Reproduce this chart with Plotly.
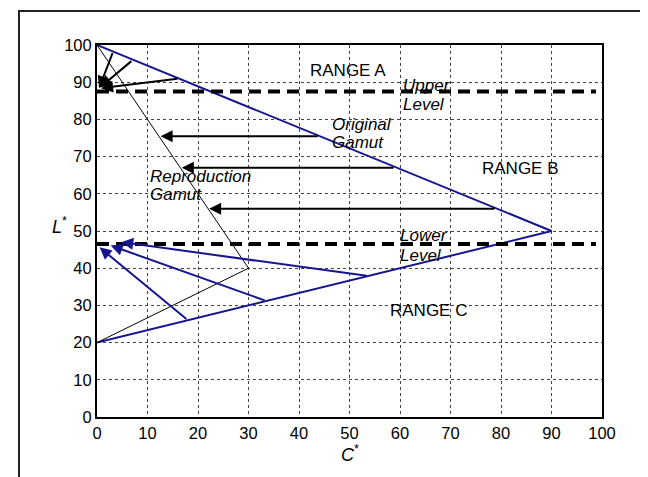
import plotly.graph_objects as go

# ---- data ----
# Original gamut boundary (C*, L*)
orig_C = [0, 90, 0]
orig_L = [100, 50, 20]
# Reproduction gamut boundary
repr_C = [0, 30, 0]
repr_L = [100, 40, 20]
# Level lines (L*)
upper_level = 87.5
lower_level = 46.5
# Horizontal mapping arrows (RANGE B): L*, start C*, end C*
mid_L = [75.5, 67.0, 56.0]
mid_C_start = [44.0, 59.0, 79.0]
mid_C_end = [12.6, 16.8, 22.2]
# Upper mapping arrows (RANGE A): start on original gamut -> tip near upper level
up_C_start = [3.2, 7.1, 16.2]
up_L_start = [98.2, 96.0, 91.0]
up_C_end = [0.4, 0.6, 0.8]
up_L_end = [88.4, 88.6, 88.4]
# Lower mapping arrows (RANGE C): start on original gamut -> tip near lower level
lo_C_start = [53.7, 33.5, 18.0]
lo_L_start = [37.9, 31.2, 26.0]
lo_C_end = [4.8, 2.7, 0.5]
lo_L_end = [47.0, 46.1, 45.6]

x_ticks = list(range(0, 101, 10))
y_ticks = list(range(0, 101, 10))

BLUE = "#15158f"
FONT = "Arial, Liberation Sans, sans-serif"

fig = go.Figure()

fig.add_trace(go.Scatter(x=orig_C, y=orig_L, mode="lines",
                         line=dict(color=BLUE, width=2), showlegend=False, hoverinfo="skip"))
fig.add_trace(go.Scatter(x=repr_C, y=repr_L, mode="lines",
                         line=dict(color="black", width=1), showlegend=False, hoverinfo="skip"))
for lv in [upper_level, lower_level]:
    fig.add_trace(go.Scatter(x=[0, 98.8], y=[lv, lv], mode="lines",
                             line=dict(color="black", width=4, dash="12px,7px"),
                             showlegend=False, hoverinfo="skip"))

ann = []
def arrow(x0, y0, x1, y1, color):
    ann.append(dict(x=x1, y=y1, ax=x0, ay=y0, xref="x", yref="y", axref="x", ayref="y",
                    text="", showarrow=True, arrowhead=2, arrowsize=1.2, arrowwidth=2,
                    arrowcolor=color, standoff=0, startstandoff=0))

for L, c0, c1 in zip(mid_L, mid_C_start, mid_C_end):
    arrow(c0, L, c1, L, "black")
for c0, l0, c1, l1 in zip(up_C_start, up_L_start, up_C_end, up_L_end):
    arrow(c0, l0, c1, l1, "black")
for c0, l0, c1, l1 in zip(lo_C_start, lo_L_start, lo_C_end, lo_L_end):
    arrow(c0, l0, c1, l1, BLUE)

# Plain labels
for txt, cx, cy in [("RANGE A", 49.7, 93.1), ("RANGE B", 83.8, 66.8), ("RANGE C", 65.7, 28.6)]:
    ann.append(dict(x=cx, y=cy, xref="x", yref="y", text=txt, showarrow=False,
                    font=dict(family=FONT, size=17, color="black")))
# Italic labels (one annotation per line)
for txt, cx, cy in [("Upper", 60.2, 89.0), ("Level", 60.2, 84.1),
                    ("Original", 46.1, 78.5), ("Gamut", 46.1, 73.7),
                    ("Reproduction", 10.1, 64.7), ("Gamut", 10.1, 59.8),
                    ("Lower", 59.7, 48.8), ("Level", 59.7, 43.5)]:
    ann.append(dict(x=cx, y=cy, xref="x", yref="y", text="<i>%s</i>" % txt, showarrow=False,
                    xanchor="left", font=dict(family=FONT, size=17, color="black")))
# Axis titles
ann.append(dict(x=-0.093, y=0.515, xref="paper", yref="paper", text="<i>L</i><sup>*</sup>",
                showarrow=False, font=dict(family=FONT, size=18, color="black")))
ann.append(dict(x=0.5, y=-0.135, xref="paper", yref="paper", text="<i>C</i><sup>*</sup>",
                showarrow=False, font=dict(family=FONT, size=18, color="black")))

axis_common = dict(range=[0, 100], showline=True, mirror=True, linecolor="black", linewidth=2,
                   showgrid=True, gridcolor="#444", gridwidth=1, griddash="dot",
                   zeroline=False, tickfont=dict(family=FONT, size=16.5, color="black"),
                   ticks="")

fig.update_layout(
    width=648, height=477,
    margin=dict(l=89, r=54, t=37, b=68),
    paper_bgcolor="white", plot_bgcolor="white",
    xaxis=dict(tickvals=x_ticks, **axis_common),
    yaxis=dict(tickvals=y_ticks, **axis_common),
    annotations=ann,
    shapes=[dict(type="rect", xref="paper", yref="paper", x0=-0.1545, x1=1.095,
                 y0=-0.3, y1=1.0914, line=dict(color="#222", width=2))],
)

fig.write_html("out.html")
